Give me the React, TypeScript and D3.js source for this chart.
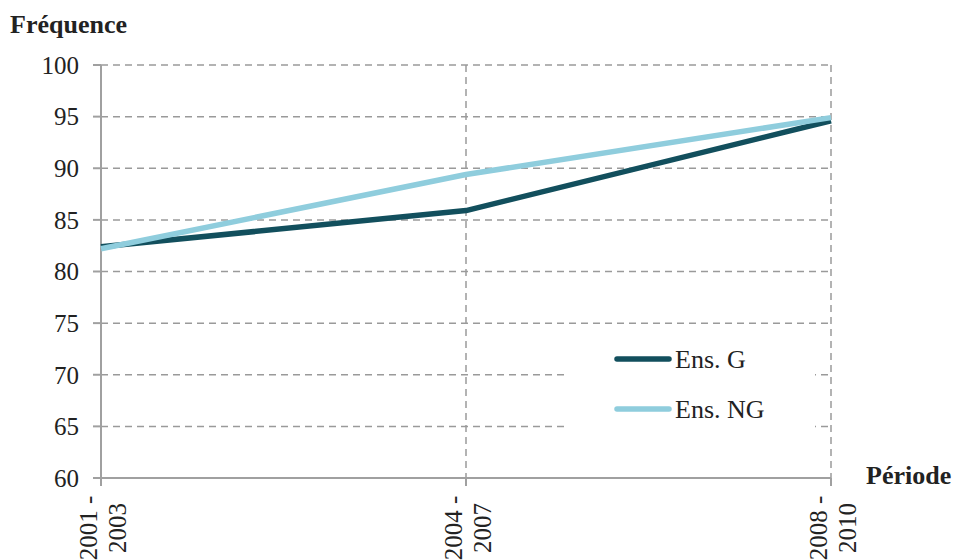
import React from "react";
import * as d3 from "d3";

const categories = ["2001 -|2003", "2004 -|2007", "2008 -|2010"];
const seriesG = [82.4, 85.9, 94.6];
const seriesNG = [82.2, 89.4, 94.9];
const yTicks = [60, 65, 70, 75, 80, 85, 90, 95, 100];
const seriesNames = ["Ens. G", "Ens. NG"];
const colors = ["#124f5d", "#8fcddd"];

const W = 954;
const H = 560;
const font = "'Liberation Serif', 'Times New Roman', serif";

export default function App() {
  const x = d3.scalePoint<string>().domain(categories).range([101, 831]);
  const y = d3.scaleLinear().domain([60, 100]).range([478, 65]);
  const line = d3
    .line<number>()
    .x((_, i) => x(categories[i]) as number)
    .y((d) => y(d));
  const all = [seriesG, seriesNG];
  const grid = "#9a9a9a";
  return (
    <svg
      width={W}
      height={H}
      style={{ position: "absolute", left: 0, top: 0, background: "#fff" }}
      fontFamily={font}
    >
      {yTicks.slice(1).map((t) => (
        <line
          key={"h" + t}
          x1={101}
          x2={831}
          y1={y(t)}
          y2={y(t)}
          stroke={grid}
          strokeWidth={1.5}
          strokeDasharray="7,5"
        />
      ))}
      {categories.slice(1).map((c) => (
        <line
          key={"v" + c}
          x1={x(c)}
          x2={x(c)}
          y1={65}
          y2={478}
          stroke={grid}
          strokeWidth={1.5}
          strokeDasharray="7,5"
        />
      ))}
      <rect x={567} y={336} width={248} height={106} fill="#fff" />
      <line x1={101} x2={101} y1={65} y2={478} stroke="#a0a0a0" strokeWidth={2} />
      <line x1={101} x2={831} y1={478} y2={478} stroke="#a0a0a0" strokeWidth={2} />
      {yTicks.map((t) => (
        <g key={"yt" + t}>
          <line x1={93} x2={101} y1={y(t)} y2={y(t)} stroke="#a0a0a0" strokeWidth={2} />
          <text x={79} y={y(t)} dy="0.35em" textAnchor="end" fontSize={25} fill="#222">
            {t}
          </text>
        </g>
      ))}
      {categories.map((c) => {
        const cx = x(c) as number;
        const [l1, l2] = c.split("|");
        return (
          <g key={"xt" + c}>
            <line x1={cx} x2={cx} y1={478} y2={486} stroke="#a0a0a0" strokeWidth={2} />
            <text
              transform={`translate(${cx - 13},528) rotate(-90)`}
              dy="0.35em"
              textAnchor="middle"
              fontSize={25}
              fill="#222"
            >
              {l1}
            </text>
            <text
              transform={`translate(${cx + 16},528) rotate(-90)`}
              dy="0.35em"
              textAnchor="middle"
              fontSize={25}
              fill="#222"
            >
              {l2}
            </text>
          </g>
        );
      })}
      {all.map((s, i) => (
        <path
          key={"s" + i}
          d={line(s) as string}
          fill="none"
          stroke={colors[i]}
          strokeWidth={5.5}
          strokeLinejoin="round"
        />
      ))}
      {seriesNames.map((n, i) => (
        <g key={"lg" + i}>
          <line
            x1={617}
            x2={669}
            y1={359 + i * 50}
            y2={359 + i * 50}
            stroke={colors[i]}
            strokeWidth={5.5}
            strokeLinecap="round"
          />
          <text x={675} y={359 + i * 50} dy="0.35em" fontSize={26} fill="#222">
            {n}
          </text>
        </g>
      ))}
      <text x={10} y={33} fontSize={26} fontWeight="bold" fill="#222">
        Fréquence
      </text>
      <text x={866} y={484} fontSize={26} fontWeight="bold" fill="#222">
        Période
      </text>
    </svg>
  );
}
